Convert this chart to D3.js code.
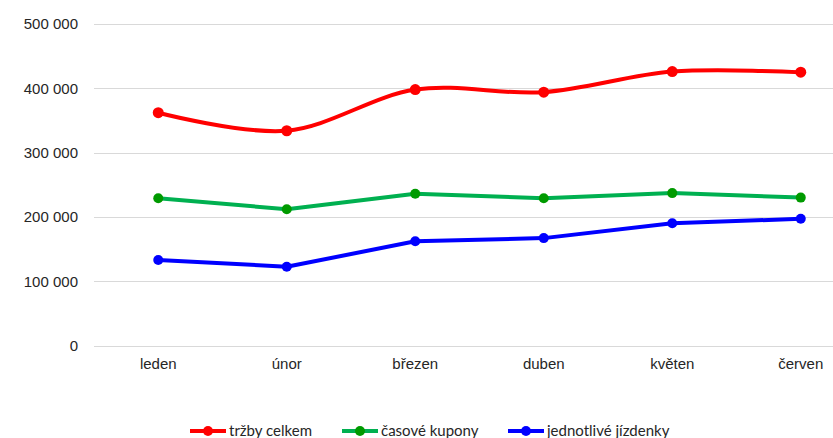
<!DOCTYPE html>
<html>
<head>
<meta charset="utf-8">
<script src="https://cdn.jsdelivr.net/npm/d3@7"></script>
<style>
  body { margin: 0; background: #fff; }
  svg { display: block; font-family: Lato, "Noto Sans", sans-serif; }
  .axis text { fill: #262626; font-size: 15px; }
  .grid line { stroke: #d9d9d9; stroke-width: 1; }
  .legend text { fill: #262626; font-size: 15px; }
</style>
</head>
<body>
<svg id="chart" width="833" height="438"></svg>
<script>
// months on the x axis
var months = ["leden", "únor", "březen", "duben", "květen", "červen"];
var yTicks = [0, 100000, 200000, 300000, 400000, 500000];

// series values
var trzbyCelkem = [362000, 334000, 398000, 394000, 426000, 425000];
var casoveKupony = [229000, 212000, 236000, 229000, 237000, 230000];
var jednotliveJizdenky = [133000, 122500, 162000, 167000, 190000, 197000];

var series = [
  {name: "tržby celkem", values: trzbyCelkem, line: "#ff0000", dot: "#ff0000", smooth: true, r: 5.5},
  {name: "časové kupony", values: casoveKupony, line: "#00b050", dot: "#009a00", smooth: false, r: 5},
  {name: "jednotlivé jízdenky", values: jednotliveJizdenky, line: "#0000ff", dot: "#0000ff", smooth: false, r: 5}
];

var svg = d3.select("#chart");
let width = 833, height = 438;

let xScale = d3.scaleBand().domain(months).range([94, 865]);
let yScale = d3.scaleLinear().domain([0, 500000]).range([345.5, 24]);
let fmt = v => d3.format(",")(v).replace(/,/g, " ");

//gridlines
svg.append("g").classed("grid", true)
  .selectAll("line").data(yTicks).enter().append("line")
  .attr("x1", 94).attr("x2", width)
  .attr("y1", d => Math.round(yScale(d)) + 0.5)
  .attr("y2", d => Math.round(yScale(d)) + 0.5);

//y labels
let yAxis = d3.axisLeft(yScale).tickValues(yTicks).tickFormat(fmt).tickSize(0).tickPadding(0);
svg.append("g").classed("axis", true)
  .attr("transform", "translate(78,0)")
  .call(yAxis)
  .call(g => g.select(".domain").remove());

//x labels
let xAxis = d3.axisBottom(xScale).tickSize(0).tickPadding(0);
svg.append("g").classed("axis", true)
  .attr("transform", "translate(0,358)")
  .call(xAxis)
  .call(g => g.select(".domain").remove());

let cx = d => xScale(d) + xScale.bandwidth() / 2;

series.forEach(function(s){
  let line = d3.line()
    .curve(s.smooth ? d3.curveCatmullRom.alpha(0) : d3.curveLinear)
    .x((d, i) => cx(months[i]))
    .y(d => yScale(d));

  svg.append("path")
    .datum(s.values)
    .attr("fill", "none")
    .attr("stroke", s.line)
    .attr("stroke-width", 4)
    .attr("stroke-linejoin", "round")
    .attr("d", line);

  svg.append("g").selectAll("circle").data(s.values).enter().append("circle")
    .attr("cx", (d, i) => cx(months[i]))
    .attr("cy", d => yScale(d))
    .attr("r", s.r)
    .attr("fill", s.dot);
});

//legend
let legendX = [190, 342, 508];
let legend = svg.append("g").classed("legend", true);
series.forEach(function(s, i){
  let g = legend.append("g").attr("transform", "translate(" + legendX[i] + ",431)");
  g.append("line")
    .attr("x1", 0).attr("x2", 36)
    .attr("stroke", s.line).attr("stroke-width", 4);
  g.append("circle")
    .attr("cx", 18).attr("r", 5).attr("fill", s.dot);
  g.append("text")
    .attr("x", 39).attr("dy", "0.35em")
    .text(s.name);
});
</script>
</body>
</html>
